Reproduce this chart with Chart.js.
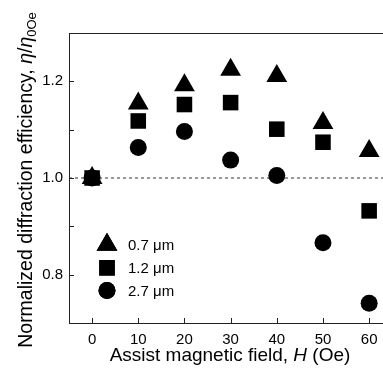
<!DOCTYPE html>
<html>
<head>
<meta charset="utf-8">
<script src="https://cdn.jsdelivr.net/npm/chart.js@4.4.0/dist/chart.umd.min.js"></script>
<style>
  html, body { margin: 0; padding: 0; background: #fff; }
</style>
</head>
<body>
<canvas id="chart" width="383" height="373"></canvas>
<script>
// assist field (Oe) and normalized efficiency per grating period
const fields = [0, 10, 20, 30, 40, 50, 60];
const eff07 = [1.0, 1.154, 1.192, 1.224, 1.211, 1.114, 1.056];
const eff12 = [1.0, 1.118, 1.152, 1.156, 1.101, 1.074, 0.932];
const eff27 = [1.0, 1.063, 1.096, 1.037, 1.005, 0.866, 0.741];
const seriesLabels = ['0.7 μm', '1.2 μm', '2.7 μm'];
const xTicks = [0, 10, 20, 30, 40, 50, 60];
const yTicks = [0.8, 0.9, 1.0, 1.1, 1.2];
const yLabelled = [0.8, 1.0, 1.2];
const refLevel = 1.0;

const FONT = '"Liberation Sans", Arial, sans-serif';
const INK = '#000';
const AXIS = '#222';

const pts = (ys) => fields.map((f, i) => ({x: f, y: ys[i]}));

// draws a row of text runs (plain / italic / subscript), centred on 0
function richText(ctx, runs, size) {
  const fontFor = r => (r.italic ? 'italic ' : '') + (r.sub ? Math.round(size * 0.65) : size) + 'px ' + FONT;
  let total = 0;
  runs.forEach(r => { ctx.font = fontFor(r); r.w = ctx.measureText(r.text).width; total += r.w; });
  let cx = -total / 2;
  runs.forEach(r => {
    ctx.font = fontFor(r);
    ctx.fillText(r.text, cx, r.sub ? size * 0.22 : 0);
    cx += r.w;
  });
}

const decor = {
  id: 'decor',
  afterDraw(chart) {
    const {ctx, chartArea: a, scales: {x, y}} = chart;
    ctx.save();
    ctx.strokeStyle = AXIS;
    ctx.lineWidth = 1;
    ctx.beginPath();
    ctx.moveTo(a.left, a.top + 0.5);
    ctx.lineTo(a.right, a.top + 0.5);
    xTicks.forEach(v => {
      const px = Math.round(x.getPixelForValue(v)) + 0.5;
      ctx.moveTo(px, a.bottom);
      ctx.lineTo(px, a.bottom - 5);
    });
    yTicks.forEach(v => {
      const py = Math.round(y.getPixelForValue(v)) + 0.5;
      ctx.moveTo(a.left, py);
      ctx.lineTo(a.left + 5, py);
    });
    ctx.stroke();

    // axis titles
    ctx.fillStyle = INK;
    ctx.textBaseline = 'alphabetic';
    ctx.save();
    ctx.translate(230, 361);
    richText(ctx, [{text: 'Assist magnetic field, '}, {text: 'H', italic: true}, {text: ' (Oe)'}], 19);
    ctx.restore();

    ctx.save();
    ctx.translate(32, 180);
    ctx.rotate(-Math.PI / 2);
    richText(ctx, [
      {text: 'Normalized diffraction efficiency, '},
      {text: 'η', italic: true}, {text: '/'}, {text: 'η', italic: true},
      {text: '0Oe', sub: true}
    ], 19.5);
    ctx.restore();

    // legend
    const rows = [244.8, 267.8, 290.5];
    chart.data.datasets.slice(0, 3).forEach((ds, i) => {
      Chart.helpers.drawPoint(ctx, {
        pointStyle: ds.pointStyle, radius: ds.pointRadius, borderWidth: 0, rotation: 0
      }, 107, rows[i]);
      ctx.fillStyle = INK;
      ctx.fill();
      ctx.font = '15px ' + FONT;
      ctx.textBaseline = 'middle';
      ctx.fillText(seriesLabels[i], 128, rows[i] + 1.5);
    });
    ctx.restore();
  }
};

const marker = (label, data, style, r) => ({
  label, data, pointStyle: style, pointRadius: r, pointHoverRadius: r,
  backgroundColor: INK, borderColor: INK, pointBorderWidth: 0, showLine: false
});

new Chart(document.getElementById('chart'), {
  type: 'scatter',
  data: {
    datasets: [
      marker(seriesLabels[0], pts(eff07), 'triangle', 12),
      marker(seriesLabels[1], pts(eff12), 'rect', 11),
      marker(seriesLabels[2], pts(eff27), 'circle', 8.5),
      {
        type: 'line', label: 'ref',
        data: [{x: -5, y: refLevel}, {x: 63, y: refLevel}],
        borderColor: '#333', borderWidth: 1, borderDash: [3, 3],
        pointRadius: 0, showLine: true, order: 5
      }
    ]
  },
  options: {
    responsive: false,
    animation: false,
    layout: {autoPadding: false, padding: {top: 33, right: 0, bottom: 0, left: 0}},
    plugins: {legend: {display: false}, tooltip: {enabled: false}},
    scales: {
      x: {
        type: 'linear', min: -5, max: 63,
        afterFit: s => { s.height = 50; s.paddingLeft = 0; s.paddingRight = 0; },
        afterBuildTicks: s => { s.ticks = xTicks.map(v => ({value: v})); },
        grid: {display: false, drawTicks: false},
        border: {display: true, color: AXIS, width: 1},
        ticks: {color: INK, font: {family: FONT, size: 15}, padding: 8, maxRotation: 0}
      },
      y: {
        min: 0.7, max: 1.3,
        afterFit: s => { s.width = 69; s.paddingTop = 0; s.paddingBottom = 0; },
        afterBuildTicks: s => { s.ticks = yTicks.map(v => ({value: v})); },
        grid: {display: false, drawTicks: false},
        border: {display: true, color: AXIS, width: 1},
        ticks: {
          color: INK, font: {family: FONT, size: 15}, padding: 6,
          callback: v => yLabelled.some(t => Math.abs(t - v) < 1e-6) ? v.toFixed(1) : ''
        }
      }
    }
  },
  plugins: [decor]
});
</script>
</body>
</html>
